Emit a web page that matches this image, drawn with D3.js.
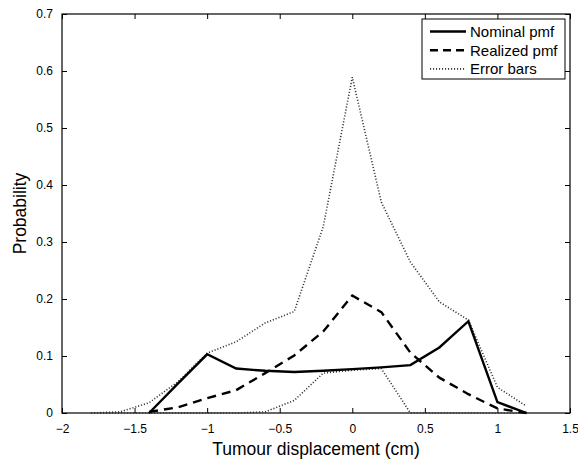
<!DOCTYPE html>
<html>
<head>
<meta charset="utf-8">
<script src="https://cdn.jsdelivr.net/npm/d3@7"></script>
<style>
    body { margin: 0; background: #fff; }
    svg { display: block; font-family: "Liberation Sans", Arial, Helvetica, sans-serif; }
</style>
</head>
<body>
<svg id="chart" width="578" height="459"></svg>
<script>
// Displacement grid (cm)
const displacement = [-1.8, -1.6, -1.4, -1.2, -1.0, -0.8, -0.6, -0.4, -0.2, 0, 0.2, 0.4, 0.6, 0.8, 1.0, 1.2];

// Probabilities (null = not drawn)
const nominalPmf = [null, null, 0, 0.052, 0.103, 0.078, 0.074, 0.072, 0.074, 0.077, 0.080, 0.084, 0.115, 0.161, 0.019, 0];
const realizedPmf = [null, null, 0.002, 0.010, 0.026, 0.040, 0.070, 0.101, 0.143, 0.206, 0.177, 0.106, 0.062, 0.033, 0.008, 0];
const errorUpper = [0, 0.002, 0.018, 0.055, 0.105, 0.125, 0.158, 0.178, 0.327, 0.589, 0.370, 0.265, 0.195, 0.163, 0.045, 0.012];
const errorLower = [0, 0, 0, 0, 0, 0, 0.002, 0.022, 0.070, 0.075, 0.078, 0, 0, 0, 0, 0];

// Axis ticks
const xTicks = [-2, -1.5, -1, -0.5, 0, 0.5, 1, 1.5];
const yTicks = [0, 0.1, 0.2, 0.3, 0.4, 0.5, 0.6, 0.7];

const legendLabels = ["Nominal pmf", "Realized pmf", "Error bars"];

const svg = d3.select("#chart");

let margin = { top: 14, right: 8, bottom: 46, left: 62 };
let width = 578 - margin.left - margin.right;
let height = 459 - margin.top - margin.bottom;

const g = svg.append("g").attr("transform", "translate(" + margin.left + "," + margin.top + ")");

const x = d3.scaleLinear().domain([-2, 1.5]).range([0, width]);
const y = d3.scaleLinear().domain([0, 0.7]).range([height, 0]);

// MATLAB-ish minus sign
const fmt = d => d < 0 ? "\u2212" + Math.abs(d) : String(d);

// Axes, ticks pointing inward
g.append("g")
    .attr("transform", "translate(0," + height + ")")
    .call(d3.axisBottom(x).tickValues(xTicks).tickFormat(fmt).tickSizeInner(-5).tickSizeOuter(0).tickPadding(11))
    .call(a => a.select(".domain").remove());
g.append("g")
    .call(d3.axisLeft(y).tickValues(yTicks).tickFormat(fmt).tickSizeInner(-5).tickSizeOuter(0).tickPadding(9))
    .call(a => a.select(".domain").remove());
g.append("g")
    .call(d3.axisTop(x).tickValues(xTicks).tickFormat("").tickSizeInner(-5).tickSizeOuter(0))
    .call(a => a.select(".domain").remove());
g.append("g")
    .attr("transform", "translate(" + width + ",0)")
    .call(d3.axisRight(y).tickValues(yTicks).tickFormat("").tickSizeInner(-5).tickSizeOuter(0))
    .call(a => a.select(".domain").remove());

g.selectAll(".tick text").attr("font-size", 12).attr("fill", "#000").attr("font-family", "Liberation Sans, Arial, sans-serif");
g.selectAll(".tick line").attr("stroke", "#000");

// Box
g.append("rect")
    .attr("width", width).attr("height", height)
    .attr("fill", "none").attr("stroke", "#000").attr("stroke-width", 1.2);

// Lines
function lineFor(values) {
    return d3.line()
        .defined((d, i) => values[i] !== null)
        .x((d, i) => x(displacement[i]))
        .y((d, i) => y(values[i]));
}

const dotted = { stroke: "#333", width: 1.6, dash: "1.1,1.9" };

[errorUpper, errorLower].forEach(vals => {
    g.append("path")
        .datum(vals)
        .attr("d", lineFor(vals))
        .attr("fill", "none")
        .attr("stroke", dotted.stroke)
        .attr("stroke-width", dotted.width)
        .attr("stroke-dasharray", dotted.dash);
});

g.append("path")
    .datum(realizedPmf)
    .attr("d", lineFor(realizedPmf))
    .attr("fill", "none")
    .attr("stroke", "#000")
    .attr("stroke-width", 2.4)
    .attr("stroke-dasharray", "9,6");

g.append("path")
    .datum(nominalPmf)
    .attr("d", lineFor(nominalPmf))
    .attr("fill", "none")
    .attr("stroke", "#000")
    .attr("stroke-width", 2.4)
    .attr("stroke-linejoin", "miter");

// Axis titles
svg.append("text")
    .attr("x", margin.left + width / 2)
    .attr("y", 455)
    .attr("text-anchor", "middle")
    .attr("font-size", 17.5)
    .text("Tumour displacement (cm)");

svg.append("text")
    .attr("transform", "translate(26," + (margin.top + height / 2) + ") rotate(-90)")
    .attr("text-anchor", "middle")
    .attr("font-size", 17.5)
    .text("Probability");

// Legend
const legend = svg.append("g").attr("transform", "translate(422,19)");
legend.append("rect")
    .attr("width", 143).attr("height", 60)
    .attr("fill", "#fff").attr("stroke", "#000").attr("stroke-width", 1);

const styles = [
    { stroke: "#000", width: 2.4, dash: null },
    { stroke: "#000", width: 2.4, dash: "8,5" },
    { stroke: dotted.stroke, width: dotted.width, dash: dotted.dash }
];

legendLabels.forEach((label, i) => {
    const row = legend.append("g").attr("transform", "translate(0," + (12.5 + i * 18.7) + ")");
    row.append("line")
        .attr("x1", 8).attr("x2", 44)
        .attr("stroke", styles[i].stroke)
        .attr("stroke-width", styles[i].width)
        .attr("stroke-dasharray", styles[i].dash);
    row.append("text")
        .attr("x", 48).attr("dy", "0.36em")
        .attr("font-size", 15)
        .text(label);
});
</script>
</body>
</html>
